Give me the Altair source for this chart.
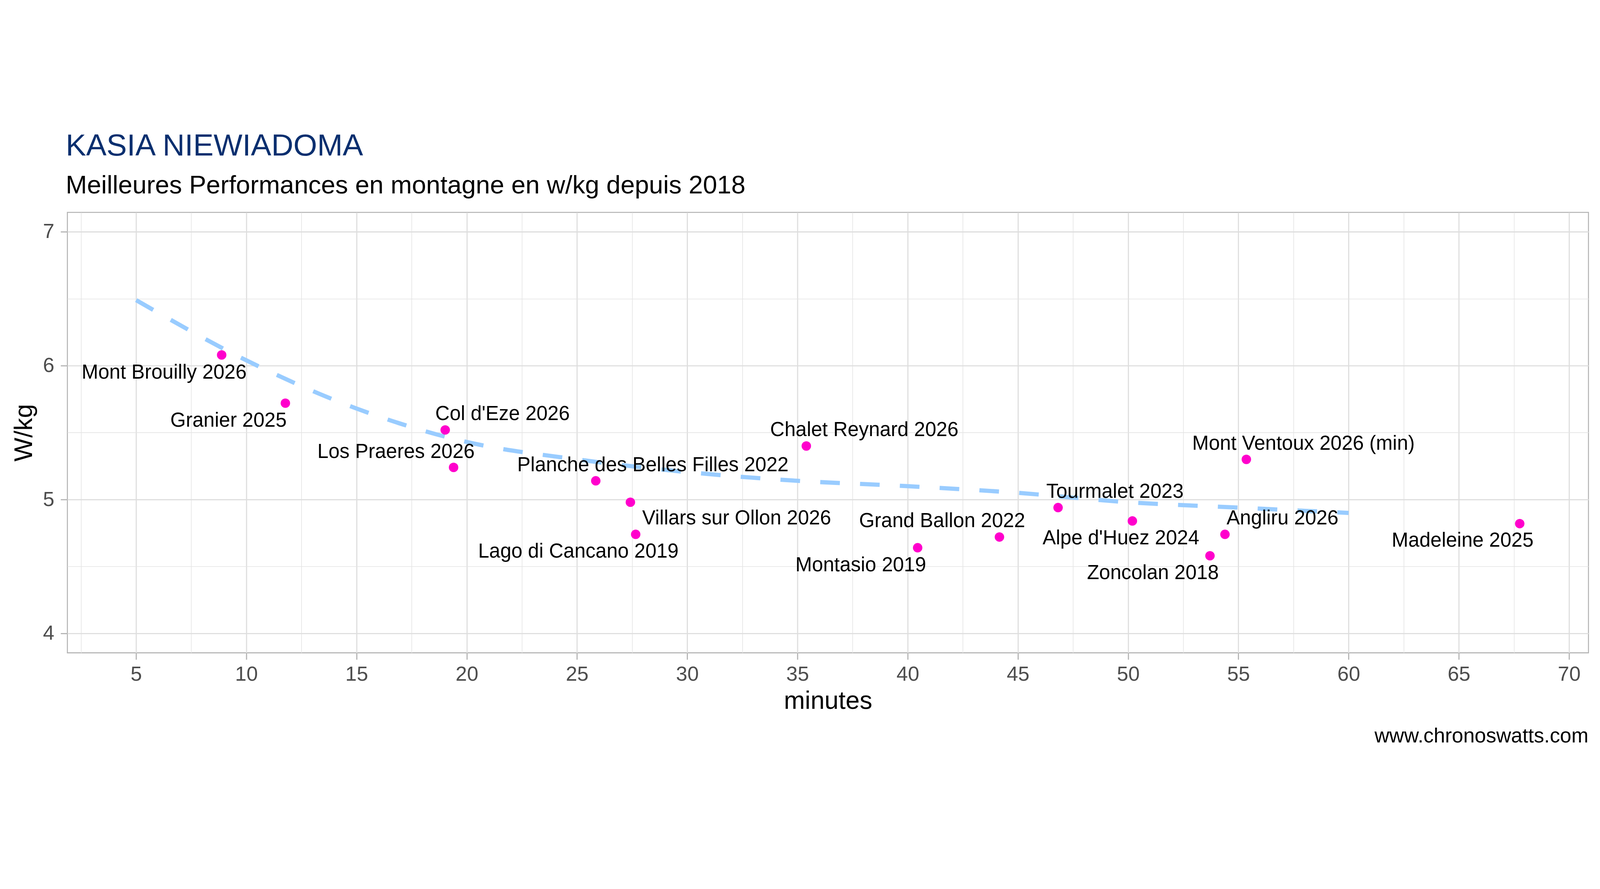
import altair as alt
import pandas as pd

# ---- data ----
climbs = ["Mont Brouilly 2026", "Granier 2025", "Col d'Eze 2026", "Los Praeres 2026",
          "Planche des Belles Filles 2022", "Villars sur Ollon 2026", "Lago di Cancano 2019",
          "Chalet Reynard 2026", "Montasio 2019", "Grand Ballon 2022", "Tourmalet 2023",
          "Alpe d'Huez 2024", "Zoncolan 2018", "Angliru 2026", "Mont Ventoux 2026 (min)",
          "Madeleine 2025"]
minutes = [8.88, 11.77, 19.02, 19.40, 25.85, 27.42, 27.66, 35.40, 40.45, 44.16, 46.82,
           50.19, 53.71, 54.39, 55.36, 67.76]
wkg = [6.08, 5.72, 5.52, 5.24, 5.14, 4.98, 4.74, 5.40, 4.64, 4.72, 4.94, 4.84, 4.58,
       4.74, 5.30, 4.82]
# label anchor (text centre / baseline) in data units, as placed in the reference
label_x = [6.27, 9.19, 21.62, 16.79, 28.44, 32.24, 25.06, 38.03, 37.87, 41.56, 49.40,
           49.67, 51.12, 57.00, 57.95, 65.17]
label_y = [5.904, 5.545, 5.593, 5.310, 5.210, 4.813, 4.566, 5.474, 4.463, 4.794, 5.013,
           4.664, 4.405, 4.813, 5.371, 4.648]

trend_x = [5, 10, 15, 20, 25, 30, 35, 40, 45, 50, 55, 60]
trend_y = [6.49, 6.04, 5.68, 5.43, 5.30, 5.205, 5.14, 5.10, 5.05, 4.98, 4.94, 4.90]

x_major = [5, 10, 15, 20, 25, 30, 35, 40, 45, 50, 55, 60, 65, 70]
x_minor = [2.5, 7.5, 12.5, 17.5, 22.5, 27.5, 32.5, 37.5, 42.5, 47.5, 52.5, 57.5, 62.5, 67.5]
y_major = [4, 5, 6, 7]
y_minor = [4.5, 5.5, 6.5]

title_text = "KASIA NIEWIADOMA"
subtitle_text = "Meilleures Performances en montagne en w/kg depuis 2018"
caption_text = "www.chronoswatts.com"

# ---- tables ----
pts = pd.DataFrame({"climb": climbs, "minutes": minutes, "wkg": wkg,
                    "lx": label_x, "ly": label_y})
trend = pd.DataFrame({"minutes": trend_x, "wkg": trend_y})
cap = pd.DataFrame({"t": [caption_text]})
ttl = pd.DataFrame({"t": [title_text]})
sub = pd.DataFrame({"t": [subtitle_text]})

FONT = "Liberation Sans"
W, H = 5421, 1569
xs = alt.Scale(domain=[1.882, 70.878], nice=False, zero=False)
ys = alt.Scale(domain=[3.855, 7.145], nice=False, zero=False)

minor_x_axis = alt.Axis(orient="top", values=x_minor, grid=True, gridColor="#E4E4E4",
                        gridWidth=2.2, labels=False, ticks=False, domain=False, title=None)
minor_y_axis = alt.Axis(orient="right", values=y_minor, grid=True, gridColor="#E4E4E4",
                        gridWidth=2.2, labels=False, ticks=False, domain=False, title=None)

main_x_axis = alt.Axis(orient="bottom", values=x_major, grid=True, gridColor="#DEDEDE",
                       gridWidth=4, domain=False, ticks=True, tickSize=24, tickWidth=4,
                       tickColor="#B3B3B3", labelFontSize=73, labelColor="#4D4D4D",
                       labelPadding=17, labelFlush=False, labelFont=FONT,
                       title="minutes", titleFontSize=90, titleFont=FONT,
                       titleFontWeight="normal", titleColor="black",
                       titleBaseline="alphabetic", titleY=199, titleX=W / 2)
main_y_axis = alt.Axis(orient="left", values=y_major, grid=True, gridColor="#DEDEDE",
                       gridWidth=4, domain=False, ticks=True, tickSize=24, tickWidth=4,
                       tickColor="#B3B3B3", labelFontSize=73, labelColor="#4D4D4D",
                       labelPadding=23, labelFont=FONT,
                       title="W/kg", titleFontSize=90, titleFont=FONT,
                       titleFontWeight="normal", titleColor="black",
                       titleAngle=270, titleBaseline="alphabetic", titleAlign="center",
                       titleX=-126, titleY=H / 2)

line = alt.Chart(trend).mark_line(
    color="#99CCFF", strokeWidth=15, strokeDash=[70, 72], interpolate="monotone",
    strokeCap="butt"
).encode(
    x=alt.X("minutes:Q", scale=xs, axis=minor_x_axis),
    y=alt.Y("wkg:Q", scale=ys, axis=minor_y_axis),
)

points = alt.Chart(pts).mark_circle(color="#FF00CC", size=1134, opacity=1).encode(
    x=alt.X("minutes:Q", scale=xs, axis=main_x_axis),
    y=alt.Y("wkg:Q", scale=ys, axis=main_y_axis),
)

labels = alt.Chart(pts).mark_text(
    font=FONT, fontSize=71, color="black", align="center", baseline="alphabetic"
).encode(
    x=alt.X("lx:Q", scale=xs, axis=None),
    y=alt.Y("ly:Q", scale=ys, axis=None),
    text="climb:N",
)

caption = alt.Chart(cap).mark_text(
    font=FONT, fontSize=73, color="black", align="right", baseline="alphabetic"
).encode(x=alt.value(W), y=alt.value(1888), text="t:N")

title = alt.Chart(ttl).mark_text(
    font=FONT, fontSize=109, color="#0A2F6F", align="left", baseline="alphabetic"
).encode(x=alt.value(-6), y=alt.value(-202), text="t:N")

subtitle = alt.Chart(sub).mark_text(
    font=FONT, fontSize=91, color="black", align="left", baseline="alphabetic"
).encode(x=alt.value(-6), y=alt.value(-67), text="t:N")

chart = alt.layer(line, points, labels, caption, title, subtitle).properties(
    width=W, height=H,
    autosize=alt.AutoSizeParams(type="none"),
    padding={"left": 229, "top": 317, "right": 30, "bottom": 300},
    background="white",
).configure_view(stroke="#B3B3B3", strokeWidth=3.5)

chart.save("out.html", embed_options={"renderer": "svg", "actions": False})
